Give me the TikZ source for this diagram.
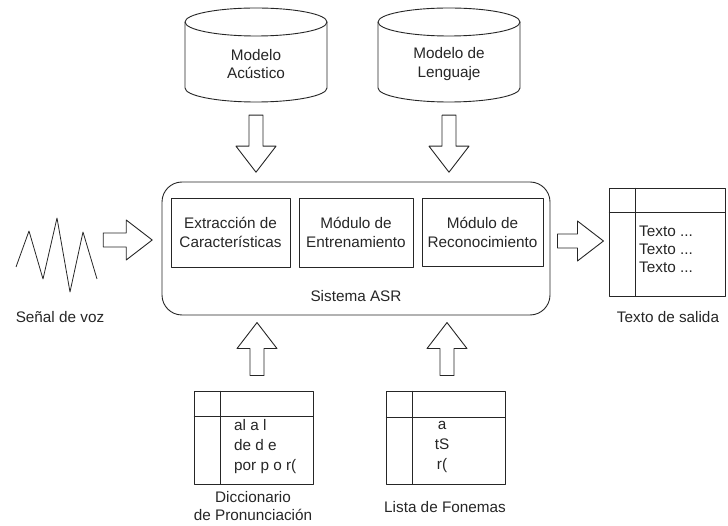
\documentclass[tikz,border=0pt]{standalone}
\usepackage{fontspec}
\setmainfont{Liberation Sans}
\usetikzlibrary{calc}
\definecolor{ink}{RGB}{38,38,38}
\begin{document}
\begin{tikzpicture}[x=1pt,y=-1pt,line join=round,
  every node/.style={font=\fontsize{15.3}{18.5}\selectfont,text=ink,inner sep=0pt},
  lw/.style={draw=ink,line width=0.9pt},
  modbox/.style={lw,rectangle,align=center},
  tablebox/.style={lw,rectangle},
  pics/dbcyl/.style={code={
    \draw[lw,fill=white] (-71,-33) -- (-71,33) arc(180:0:71 and 14) -- (71,-33)
         arc(0:-180:71 and 14) -- cycle;
    \draw[lw] (-71,-33) arc(180:0:71 and 14);}},
  pics/barrow/.style={code={
    \draw[lw,fill=white] (0,-7) -- ({#1-26},-7) -- ({#1-26},-20) -- (#1,0)
         -- ({#1-26},20) -- ({#1-26},7) -- (0,7) -- cycle;}}]
\useasboundingbox (0,0) rectangle (728,526);

% databases
\pic at (256,55) {dbcyl};
\node[minimum width=142,minimum height=94] (amc) at (256,55) {};
\node[align=center] (am) at (256,64) {Modelo\\Acústico};
\pic at (449,55) {dbcyl};
\node[minimum width=142,minimum height=94] (lmc) at (449,55) {};
\node[align=center] (lm) at (449,64) {Modelo de\\Lenguaje};

% ASR system
\node[lw,rounded corners=20pt,minimum width=388,minimum height=133] (asr) at (356,248.5) {};
\node (asrl) at (356,296) {Sistema ASR};
\node[modbox,minimum width=119,minimum height=69] (ext) at (230.5,232.5) {Extracción de\\Características};
\node[modbox,minimum width=114,minimum height=69] (ent) at (356,232.5) {Módulo de\\Entrenamiento};
\node[modbox,minimum width=121,minimum height=68] (rec) at (482.5,232.5) {Módulo de\\Reconocimiento};

% speech signal
\node[minimum width=82,minimum height=74] (wave) at (56.5,255) {};
\draw[lw,line width=0.8pt] (16,267) -- (29,231) -- (43,279) -- (57,218) -- (70,292) -- (83,232) -- (97,279);
\node (voz) at (60,317) {Señal de voz};

% output text
\node[tablebox,minimum width=116,minimum height=108] (out) at (667,242) {};
\draw[lw] ([xshift=27pt]out.north west) -- ([xshift=27pt]out.south west);
\draw[lw] ([yshift=-25pt]out.north west) -- ([yshift=-25pt]out.north east);
\node[anchor=west,align=left,font=\fontsize{15.3}{18}\selectfont] (outt) at (639,249) {Texto ...\\Texto ...\\Texto ...};
\node (outl) at (668,317) {Texto de salida};

% pronunciation dictionary
\node[tablebox,minimum width=119,minimum height=93] (dic) at (253.5,437.5) {};
\draw[lw] ([xshift=27pt]dic.north west) -- ([xshift=27pt]dic.south west);
\draw[lw] ([yshift=-26pt]dic.north west) -- ([yshift=-26pt]dic.north east);
\node[anchor=west,align=left,font=\fontsize{15.3}{20}\selectfont] (dict) at (234,447) {al a l\\de d e\\por p o r(};
\node[align=center] (dicl) at (253,506) {Diccionario\\de Pronunciación};

% phoneme list
\node[tablebox,minimum width=119,minimum height=93] (lst) at (445.5,437.5) {};
\draw[lw] ([xshift=27pt]lst.north west) -- ([xshift=27pt]lst.south west);
\draw[lw] ([yshift=-27pt]lst.north west) -- ([yshift=-27pt]lst.north east);
\node[align=center,font=\fontsize{15.3}{20}\selectfont] (lstt) at (442,447) {a\\tS\\r(};
\node (lstl) at (445,507) {Lista de Fonemas};

% block arrows between the parts
\pic[rotate=-90] at ($(amc.south)+(0,13)$) {barrow=57};
\pic[rotate=-90] at ($(lmc.south)+(0,13)$) {barrow=57};
\pic at ($(wave.east)+(5.5,-15)$) {barrow=49};
\pic at ($(asr.east)+(7,-7.5)$) {barrow=46};
\pic[rotate=90] at ($(dic.north)+(3.5,-15)$) {barrow=53};
\pic[rotate=90] at ($(lst.north)+(1.5,-15)$) {barrow=53};
\end{tikzpicture}
\end{document}
